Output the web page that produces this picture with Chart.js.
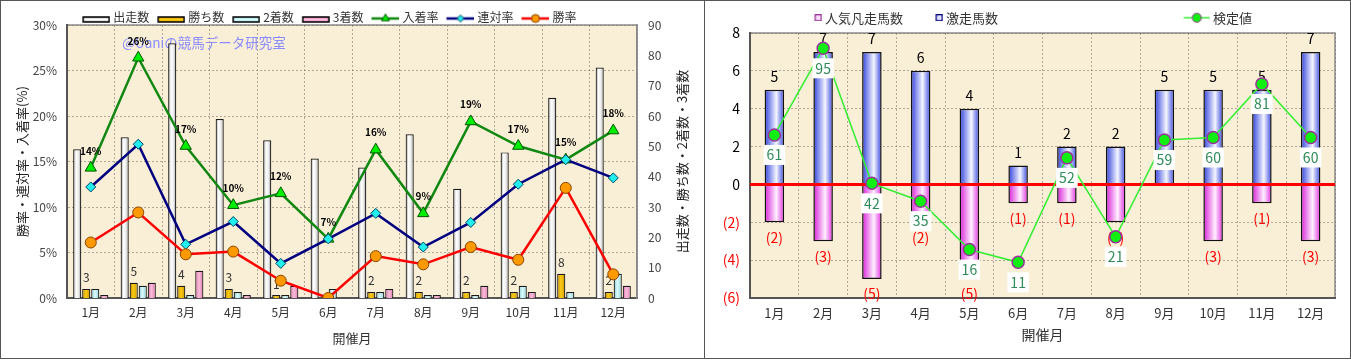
<!DOCTYPE html>
<html lang="ja">
<head>
<meta charset="utf-8">
<title>開催月別成績</title>
<script src="https://cdn.jsdelivr.net/npm/chart.js@4.4.1/dist/chart.umd.min.js"></script>
<style>
 html, body { margin: 0; padding: 0; background: #fff; }
 .panel { position: absolute; top: 0; height: 359px; border: 1px solid #555; box-sizing: border-box; background: #fff; }
 #leftPanel { left: 0; width: 705px; }
 #rightPanel { left: 704px; width: 647px; }
 .panel canvas { display: block; }
</style>
</head>
<body>
<div class="panel" id="leftPanel"><canvas id="monthStatsChart"></canvas></div>
<div class="panel" id="rightPanel"><canvas id="kenteiChart"></canvas></div>
<script>
// --- data ---
var months = ["1月", "2月", "3月", "4月", "5月", "6月", "7月", "8月", "9月", "10月", "11月", "12月"];

var startCounts = [49, 53, 84, 59, 52, 46, 43, 54, 36, 48, 66, 76];
var winCounts = [3, 5, 4, 3, 1, 0, 2, 2, 2, 2, 8, 2];
var secondCounts = [3, 4, 1, 2, 1, 3, 2, 1, 1, 4, 2, 8];
var thirdCounts = [1, 5, 9, 1, 4, 0, 3, 1, 4, 2, 0, 4];

var placeRate = [14.3, 26.4, 16.7, 10.2, 11.5, 6.5, 16.3, 9.3, 19.4, 16.7, 15.2, 18.4];
var rentaiRate = [12.2, 16.9, 5.9, 8.4, 3.8, 6.5, 9.3, 5.6, 8.3, 12.5, 15.2, 13.2];
var winRate = [6.1, 9.4, 4.8, 5.1, 1.9, 0, 4.6, 3.7, 5.6, 4.2, 12.1, 2.6];

var rateMax = 30, rateStep = 5;
var countMax = 90, countStep = 10;

var flopCounts = [-2, -3, -5, -2, -5, -1, -1, -2, 0, -3, -1, -3];
var bounceCounts = [5, 7, 7, 6, 4, 1, 2, 2, 5, 5, 5, 7];
var kenteiValues = [61, 95, 42, 35, 16, 11, 52, 21, 59, 60, 81, 60];

var diffMin = -6, diffMax = 8, diffStep = 2;

Chart.defaults.font.family = '"Noto Sans CJK JP", "Noto Sans", sans-serif';
Chart.defaults.color = "#333";

var gridColor = "rgba(120,110,100,0.55)";
var plotColor = "#f9eed6";

var silver = [[0, "#8c8c8c"], [0.35, "#ffffff"], [0.65, "#eeeeee"], [1, "#999999"]];
var gold = [[0, "#c08c00"], [0.45, "#fcca14"], [1, "#cc9a00"]];
var aqua = [[0, "#88c8d0"], [0.45, "#d8fbfd"], [1, "#94d2da"]];
var pink = [[0, "#d66aa4"], [0.45, "#fbbedc"], [1, "#de7cb0"]];
var blue = [[0, "#3040dc"], [0.6, "#f4f6ff"], [1, "#3848e0"]];
var magenta = [[0, "#d820d8"], [0.6, "#fff0ff"], [1, "#e030e0"]];

// horizontal gradient across one bar, worked out from the category scale
function barFill(stops, nBars, k) {
 return function (c) {
  var chart = c.chart;
  var xs = chart.scales.x;
  if (!chart.chartArea || !xs || c.dataIndex === undefined) return stops[1][1];
  var cat = xs.width / chart.data.labels.length;
  var group = cat * c.dataset.categoryPercentage;
  var slot = group / nBars;
  var w = slot * c.dataset.barPercentage;
  var cx = xs.getPixelForValue(c.dataIndex) - group / 2 + slot * (k + 0.5);
  var g = chart.ctx.createLinearGradient(cx - w / 2, 0, cx + w / 2, 0);
  stops.forEach(function (s) { g.addColorStop(s[0], s[1]); });
  return g;
 };
}

// small canvases used as legend point styles
function legendIcon(w, h, shift, dy, draw) {
 var c = document.createElement("canvas");
 c.width = Math.round(w + 2 * shift);
 c.height = h + 2 * Math.abs(dy);
 var g = c.getContext("2d");
 g.translate(2 * shift, Math.abs(dy) + dy);
 draw(g, w, h);
 return c;
}

function barSwatch(stops) {
 return legendIcon(28, 7, 3, 2, function (g, w, h) {
  var grad = g.createLinearGradient(0, 0, 0, h);
  grad.addColorStop(0, stops[0][1]);
  grad.addColorStop(0.5, stops[1][1]);
  grad.addColorStop(1, stops[stops.length - 1][1]);
  g.fillStyle = grad;
  g.fillRect(1, 1, w - 2, h - 2);
  g.strokeStyle = "#000";
  g.lineWidth = 1.5;
  g.strokeRect(1, 1, w - 2, h - 2);
 });
}

function lineSwatch(w, shift, dy, line, lineWidth, style, radius, fill, stroke) {
 return legendIcon(w, 12, shift, dy, function (g, w, h) {
  g.strokeStyle = line;
  g.lineWidth = lineWidth;
  g.beginPath();
  g.moveTo(0, h / 2);
  g.lineTo(w, h / 2);
  g.stroke();
  g.fillStyle = fill;
  g.strokeStyle = stroke;
  g.lineWidth = 1;
  Chart.helpers.drawPoint(g, { pointStyle: style, radius: radius, borderWidth: 1 }, w / 2, h / 2);
 });
}

function squareSwatch(fill, stroke) {
 return legendIcon(7, 7, 15.25, 0, function (g, w, h) {
  g.fillStyle = fill;
  g.fillRect(0.5, 0.5, w - 1, h - 1);
  g.strokeStyle = stroke;
  g.lineWidth = 1.3;
  g.strokeRect(0.5, 0.5, w - 1, h - 1);
 });
}

function legendFromDatasets(chart) {
 return chart.data.datasets.map(function (ds, i) {
  return {
   text: ds.label,
   pointStyle: ds.legendIcon,
   datasetIndex: i,
   hidden: false,
   fillStyle: "transparent",
   strokeStyle: "transparent",
   lineWidth: 0,
   fontColor: "#333",
  };
 });
}

// --- plugins ---
var plotBg = {
 id: "plotBg",
 beforeDraw: function (chart, args, opts) {
  var a = chart.chartArea;
  var ctx = chart.ctx;
  ctx.save();
  ctx.fillStyle = opts.color;
  ctx.fillRect(a.left, a.top, a.width, a.height);
  ctx.strokeStyle = "#8a8a8a";
  ctx.lineWidth = 1.5;
  ctx.strokeRect(a.left, a.top, a.width, a.height);
  ctx.restore();
 },
};

var valueLabels = {
 id: "valueLabels",
 afterDatasetDraw: function (chart, args) {
  var ds = chart.data.datasets[args.index];
  var opt = ds.valueLabel;
  if (!opt) return;
  var ctx = chart.ctx;
  ctx.save();
  ctx.font = opt.font;
  ctx.textAlign = "center";
  ctx.textBaseline = "middle";
  args.meta.data.forEach(function (el, i) {
   var v = ds.data[i];
   var text = opt.format(v);
   if (text === "") return;
   var y = el.y + (v < 0 ? opt.dyNeg : opt.dy);
   if (opt.box) {
    var w = ctx.measureText(text).width + 6;
    ctx.fillStyle = opt.box;
    ctx.fillRect(el.x - w / 2, y - 10, w, 20);
   }
   ctx.fillStyle = v < 0 && opt.negColor ? opt.negColor : opt.color;
   ctx.fillText(text, el.x, y);
  });
  ctx.restore();
 },
};

var watermark = {
 id: "watermark",
 beforeDatasetsDraw: function (chart, args, opts) {
  var a = chart.chartArea;
  var ctx = chart.ctx;
  ctx.save();
  ctx.font = opts.font;
  ctx.fillStyle = opts.color;
  ctx.textAlign = "center";
  ctx.textBaseline = "middle";
  ctx.fillText(opts.text, a.left + opts.dx, a.top + opts.dy);
  ctx.restore();
 },
};

// right-hand axis title, written bottom to top like the left one
var rightTitle = {
 id: "rightTitle",
 afterDraw: function (chart, args, opts) {
  var s = chart.scales[opts.scale];
  var ctx = chart.ctx;
  ctx.save();
  ctx.translate(s.left + opts.offset, (s.top + s.bottom) / 2);
  ctx.rotate(-Math.PI / 2);
  ctx.font = opts.font;
  ctx.fillStyle = "#222";
  ctx.textAlign = "center";
  ctx.textBaseline = "middle";
  ctx.fillText(opts.text, 0, 0);
  ctx.restore();
 },
};

var zeroLine = {
 id: "zeroLine",
 beforeDatasetDraw: function (chart, args) {
  if (args.meta.type !== "line") return;
  var a = chart.chartArea;
  var y = chart.scales.y.getPixelForValue(0);
  var ctx = chart.ctx;
  ctx.save();
  ctx.strokeStyle = "#ff0000";
  ctx.lineWidth = 3;
  ctx.beginPath();
  ctx.moveTo(a.left, y);
  ctx.lineTo(a.right, y);
  ctx.stroke();
  ctx.restore();
 },
};

// --- left chart: counts and rates by month ---
function barSet(label, data, stops, k) {
 return {
  type: "bar",
  label: label,
  data: data,
  yAxisID: "y2",
  order: 10,
  backgroundColor: barFill(stops, 4, k),
  borderColor: "#1a1a1a",
  borderWidth: 1.2,
  categoryPercentage: 0.76,
  barPercentage: 0.9,
  legendIcon: barSwatch(stops),
 };
}

var winBars = barSet("勝ち数", winCounts, gold, 1);
winBars.valueLabel = {
 format: function (v) { return v > 0 ? String(v) : ""; },
 dy: -11, dyNeg: 0, font: '12px "Noto Sans CJK JP"', color: "#333",
};

new Chart(document.getElementById("monthStatsChart"), {
 data: {
  labels: months,
  datasets: [
   barSet("出走数", startCounts, silver, 0),
   winBars,
   barSet("2着数", secondCounts, aqua, 2),
   barSet("3着数", thirdCounts, pink, 3),
   {
    type: "line",
    label: "入着率",
    data: placeRate,
    yAxisID: "y",
    order: 3,
    borderColor: "#118811",
    borderWidth: 2.5,
    pointStyle: "triangle",
    pointRadius: 6.5,
    pointBackgroundColor: "#00ee00",
    pointBorderColor: "#005500",
    pointBorderWidth: 1,
    legendIcon: lineSwatch(28, 3, 1, "#118811", 2.5, "triangle", 4.5, "#00ee00", "#005500"),
    valueLabel: {
     format: function (v) { return Math.round(v) + "%"; },
     dy: -17, dyNeg: -17, font: 'bold 10px "Noto Sans CJK JP"', color: "#000",
    },
   },
   {
    type: "line",
    label: "連対率",
    data: rentaiRate,
    yAxisID: "y",
    order: 2,
    borderColor: "#000080",
    borderWidth: 2.5,
    pointStyle: "rectRot",
    pointRadius: 5,
    pointBackgroundColor: "#22eeee",
    pointBorderColor: "#004466",
    pointBorderWidth: 1,
    legendIcon: lineSwatch(28, 3, 1, "#000080", 2.5, "rectRot", 3.5, "#22eeee", "#004466"),
   },
   {
    type: "line",
    label: "勝率",
    data: winRate,
    yAxisID: "y",
    order: 1,
    borderColor: "#ff0000",
    borderWidth: 2.5,
    pointStyle: "circle",
    pointRadius: 5.5,
    pointBackgroundColor: "#ff9900",
    pointBorderColor: "#884400",
    pointBorderWidth: 1,
    legendIcon: lineSwatch(28, 3, 1, "#ff0000", 2.5, "circle", 4, "#ff9900", "#884400"),
   },
  ],
 },
 options: {
  responsive: true,
  maintainAspectRatio: false,
  animation: false,
  // uneven side padding keeps the legend left of centre, as in the original
  layout: { padding: { left: -28, right: 21.4, top: 5.5, bottom: 0 } },
  plugins: {
   legend: {
    position: "top",
    maxHeight: 18.5,
    labels: {
     usePointStyle: true,
     pointStyleWidth: 28,
     padding: 5,
     font: { size: 12 },
     color: "#333",
     generateLabels: legendFromDatasets,
    },
   },
   tooltip: { enabled: false },
   plotBg: { color: plotColor },
   watermark: {
    text: "@Uaniの競馬データ研究室",
    font: '13.5px "Noto Sans CJK JP"',
    color: "#8a8cff",
    dx: 137,
    dy: 18,
   },
   rightTitle: {
    scale: "y2",
    offset: 45,
    text: "出走数・勝ち数・2着数・3着数",
    font: '13px "Noto Sans CJK JP"',
   },
  },
  scales: {
   x: {
    offset: true,
    grid: { color: gridColor, drawTicks: false },
    border: { color: "#555", width: 2, dash: [2, 2] },
    ticks: { padding: 7, color: "#333", font: { size: 12 } },
    title: { display: true, text: "開催月", color: "#333", font: { size: 13 }, padding: { top: 0, bottom: 12 } },
    afterFit: function (s) { s.height = 60; },
   },
   y: {
    position: "left",
    min: 0,
    max: rateMax,
    ticks: {
     stepSize: rateStep,
     padding: 10,
     color: "#444",
     font: { size: 12 },
     callback: function (v) { return v + "%"; },
    },
    grid: { color: gridColor, drawTicks: false },
    border: { color: "#555", width: 2, dash: [2, 2] },
    title: { display: true, text: "勝率・連対率・入着率(%)", color: "#222", font: { size: 13 }, padding: { top: 41.2, bottom: 0 } },
    afterFit: function (s) { s.width = 94; },
   },
   y2: {
    position: "right",
    min: 0,
    max: countMax,
    ticks: { stepSize: countStep, padding: 11, color: "#444", font: { size: 12 } },
    grid: { display: false, drawTicks: false },
    border: { color: "#8a8a8a", width: 1.5 },
    afterFit: function (s) { s.width = 45.6; },
   },
  },
 },
 plugins: [plotBg, watermark, valueLabels, rightTitle],
});

// --- right chart: 激走 / 凡走 and 検定値 ---
function stackSet(label, data, stops, icon) {
 return {
  type: "bar",
  label: label,
  data: data,
  yAxisID: "y",
  order: 10,
  backgroundColor: barFill(stops, 1, 0),
  borderColor: "#111",
  borderWidth: 1.5,
  categoryPercentage: 0.8,
  barPercentage: 0.5,
  legendIcon: icon,
 };
}

var flopBars = stackSet("人気凡走馬数", flopCounts, magenta, squareSwatch("#fbe0fb", "#993399"));
flopBars.valueLabel = {
 format: function (v) { return v < 0 ? "(" + -v + ")" : ""; },
 dy: 0, dyNeg: 15, font: '14px "Noto Sans CJK JP"', color: "#ff0000", negColor: "#ff0000",
};
var bounceBars = stackSet("激走馬数", bounceCounts, blue, squareSwatch("#e4e8ff", "#000080"));
bounceBars.valueLabel = {
 format: function (v) { return v > 0 ? String(v) : ""; },
 dy: -13, dyNeg: 0, font: '14px "Noto Sans CJK JP"', color: "#000",
};

var blankIcon = document.createElement("canvas");
blankIcon.width = 1;
blankIcon.height = 1;

new Chart(document.getElementById("kenteiChart"), {
 data: {
  labels: months,
  datasets: [
   flopBars,
   bounceBars,
   {
    type: "line",
    label: "検定値",
    data: kenteiValues,
    yAxisID: "y2",
    order: 0,
    borderColor: "#33ee33",
    borderWidth: 1.5,
    pointRadius: 6,
    pointBackgroundColor: "#11ee11",
    pointBorderColor: "#993399",
    pointBorderWidth: 1.5,
    legendIcon: lineSwatch(26, 5.75, 0, "#33ee33", 1.5, "circle", 4.5, "#11ee11", "#993399"),
    valueLabel: {
     format: function (v) { return String(v); },
     dy: 20, dyNeg: 20, font: '14px "Noto Sans CJK JP"', color: "#2e8b57", box: "#ffffff",
    },
   },
  ],
 },
 options: {
  responsive: true,
  maintainAspectRatio: false,
  animation: false,
  layout: { padding: { left: 0, right: 15, top: 4.2, bottom: 0 } },
  plugins: {
   legend: {
    position: "top",
    maxHeight: 27.8,
    labels: {
     usePointStyle: true,
     pointStyleWidth: 30.5,
     padding: 6,
     font: { size: 13 },
     color: "#333",
     generateLabels: function (chart) {
      var items = legendFromDatasets(chart);
      // the original legend keeps an empty slot before 検定値
      var gap = [];
      for (var i = 0; i < 4; i++) {
       gap.push({ text: "", pointStyle: blankIcon, hidden: false, fillStyle: "transparent", strokeStyle: "transparent", lineWidth: 0 });
      }
      return items.slice(0, 2).concat(gap, items.slice(2));
     },
    },
   },
   tooltip: { enabled: false },
   plotBg: { color: plotColor },
  },
  scales: {
   x: {
    stacked: true,
    offset: true,
    grid: { color: gridColor, drawTicks: false },
    border: { color: "#555", width: 2, dash: [2, 2] },
    ticks: { padding: 7, color: "#333", font: { size: 13 } },
    title: { display: true, text: "開催月", color: "#333", font: { size: 14 }, padding: { top: 0, bottom: 14.6 } },
    afterFit: function (s) { s.height = 60; },
   },
   y: {
    stacked: true,
    min: diffMin,
    max: diffMax,
    ticks: {
     stepSize: diffStep,
     padding: 10,
     font: { size: 14 },
     color: function (c) { return c.tick && c.tick.value < 0 ? "#ff0000" : "#000"; },
     callback: function (v) { return v < 0 ? "(" + -v + ")" : String(v); },
    },
    grid: { color: gridColor, drawTicks: false },
    border: { color: "#555", width: 2, dash: [2, 2] },
    afterFit: function (s) { s.width = 45; },
   },
   y2: { display: false, min: -3, max: 101 },
  },
 },
 plugins: [plotBg, valueLabels, zeroLine],
});
</script>
</body>
</html>
